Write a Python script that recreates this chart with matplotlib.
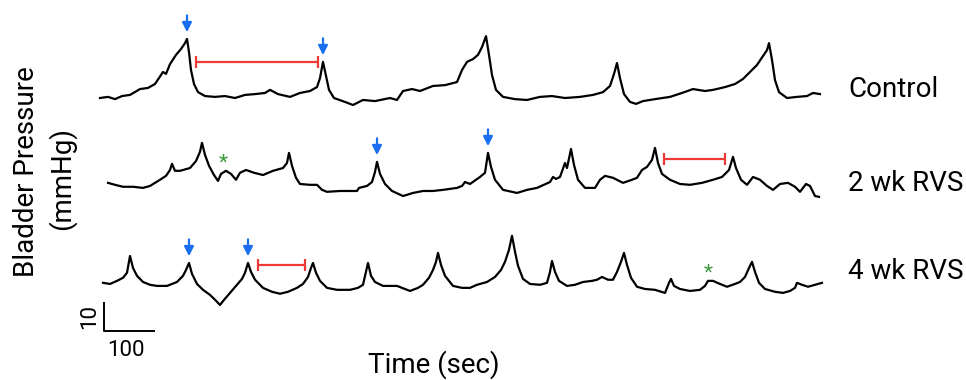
import matplotlib.pyplot as plt

plt.rcParams["font.family"] = ["Roboto", "DejaVu Sans"]

# time (sec) and pressure (mmHg, relative to each trace's own baseline)
control_t = [0, 16, 30, 44, 60, 80, 96, 110, 126, 132, 140, 152, 162, 170, 174, 178, 182, 188, 196, 210,
             230, 250, 270, 290, 310, 330, 340, 356, 380, 400, 420, 434, 440, 446, 452, 458, 468, 490, 506,
             526, 550, 580, 594, 606, 624, 640, 666, 690, 714, 724, 734, 746, 756, 764, 772, 778, 784, 792,
             806, 830, 854, 880, 904, 930, 960, 986, 1006, 1020, 1028, 1034, 1040, 1048, 1060, 1072, 1086,
             1110, 1140, 1164, 1186, 1210, 1226, 1250, 1270, 1286, 1300, 1314, 1326, 1334, 1338, 1344, 1350,
             1358, 1374, 1394, 1414, 1426, 1440]
control_p = [0.0, 0.4, -0.4, 0.7, 1.1, 3.2, 3.6, 5.0, 9.3, 8.6, 12.1, 15.4, 17.5, 19.6, 21.1, 16.4, 10.0,
             5.0, 2.1, 0.7, 0.4, 0.7, 0.0, 1.1, 1.4, 1.8, 2.9, 1.4, 0.4, 1.8, 2.5, 3.9, 7.1, 12.9, 7.9, 2.9,
             0.0, -1.4, -2.5, -0.7, -1.1, 0.0, -0.7, 2.5, 3.2, 2.5, 4.3, 4.6, 5.7, 10.0, 12.9, 13.9, 15.4,
             18.2, 22.1, 15.4, 8.2, 2.9, 0.4, -0.4, -0.7, 0.4, 0.7, 0.0, 0.4, 1.1, 2.1, 4.3, 8.6, 12.5, 7.1,
             1.4, -1.4, -2.1, -1.1, -0.4, 0.4, 1.8, 3.2, 2.5, 2.9, 3.9, 5.0, 6.8, 9.3, 11.8, 15.0, 17.1,
             19.6, 13.6, 6.4, 2.1, 0.0, 0.4, 0.7, 1.8, 1.4]

wk2_t = [16, 30, 46, 66, 86, 100, 120, 132, 140, 144, 150, 160, 180, 192, 200, 204, 210, 218, 228, 236,
         242, 252, 262, 272, 280, 292, 308, 326, 346, 366, 374, 378, 384, 392, 400, 420, 434, 444, 454,
         480, 514, 518, 534, 544, 550, 554, 560, 570, 584, 606, 626, 646, 666, 686, 714, 724, 730, 740,
         760, 770, 776, 782, 790, 806, 834, 854, 874, 900, 906, 912, 920, 930, 934, 942, 948, 956, 970,
         990, 1000, 1010, 1026, 1046, 1064, 1074, 1084, 1094, 1104, 1110, 1116, 1124, 1140, 1160, 1180,
         1204, 1226, 1244, 1258, 1266, 1272, 1282, 1294, 1306, 1320, 1334, 1346, 1360, 1376, 1390, 1400,
         1412, 1420, 1430, 1438]
wk2_p = [1.8, 1.1, 0.4, 0.4, 0.0, 0.7, 2.9, 4.3, 6.4, 8.6, 6.1, 6.1, 7.1, 9.6, 12.9, 16.1, 11.8, 7.9,
         4.6, 2.5, 5.0, 6.1, 5.0, 2.9, 5.4, 6.4, 5.4, 4.6, 6.1, 7.1, 8.9, 12.5, 7.9, 3.6, 1.4, 1.1, 1.1,
         -0.7, -1.4, -1.1, -1.1, 0.0, 0.7, 2.1, 5.7, 9.3, 5.0, 1.4, -1.1, -2.9, -1.8, -1.1, -1.1, -0.7,
         0.0, 0.7, 2.1, 1.4, 3.9, 5.4, 12.5, 7.5, 2.9, -0.7, -1.8, -0.7, 0.0, 2.1, 3.9, 3.2, 3.9, 8.9,
         7.1, 13.9, 8.2, 2.9, 0.0, 0.0, 2.9, 4.3, 3.6, 1.8, 2.9, 3.6, 6.4, 7.5, 10.0, 14.3, 8.9, 5.0,
         2.9, 1.4, 1.1, 1.8, 2.9, 3.9, 6.4, 11.1, 7.1, 2.9, 1.1, 3.9, 2.9, 0.7, -0.7, 1.4, 1.8, 0.4,
         -1.4, 1.4, 0.7, -2.9, -3.2]

wk4_t = [6, 20, 34, 46, 54, 60, 66, 74, 86, 100, 114, 134, 154, 166, 172, 178, 184, 194, 206, 220, 232,
         240, 248, 260, 274, 284, 290, 296, 302, 310, 326, 344, 360, 376, 394, 406, 416, 422, 426, 432,
         440, 454, 474, 500, 516, 526, 532, 536, 542, 550, 566, 594, 610, 620, 636, 646, 658, 666, 672,
         676, 682, 690, 706, 724, 740, 754, 774, 790, 802, 810, 818, 824, 830, 836, 846, 860, 880, 894,
         900, 904, 910, 918, 934, 950, 966, 984, 994, 1004, 1016, 1026, 1034, 1042, 1048, 1054, 1062,
         1074, 1090, 1110, 1130, 1134, 1138, 1142, 1148, 1160, 1180, 1200, 1210, 1216, 1226, 1240, 1254,
         1270, 1280, 1290, 1298, 1304, 1310, 1318, 1330, 1350, 1366, 1380, 1390, 1394, 1404, 1416, 1430,
         1444]
wk4_p = [1.8, 1.4, 2.5, 3.6, 5.4, 11.4, 7.1, 4.3, 2.1, 1.1, 0.7, 0.7, 2.1, 4.3, 6.4, 8.9, 5.0, 1.4,
         -0.7, -2.5, -4.6, -6.1, -4.3, -1.8, 1.1, 3.2, 5.4, 8.9, 5.7, 2.9, 0.0, -1.4, -2.1, -1.4, 0.0,
         1.4, 3.9, 7.1, 8.9, 5.4, 2.5, 0.0, -0.7, -0.7, 0.0, 1.1, 5.7, 8.9, 4.3, 2.1, 0.7, 0.7, -0.4,
         -1.1, 0.0, 1.1, 3.6, 6.4, 9.3, 12.5, 8.2, 4.3, 0.7, 0.0, 0.0, 1.1, 2.1, 3.9, 6.4, 9.3, 13.6,
         18.6, 12.9, 7.9, 3.2, 1.4, 1.1, 1.8, 5.7, 9.6, 5.7, 2.5, 0.7, 1.1, 2.1, 2.5, 2.9, 3.9, 2.9,
         2.9, 5.7, 9.3, 12.5, 8.2, 3.6, 0.4, -0.4, -0.7, -1.8, 0.0, 1.8, 3.2, 0.7, -0.4, -1.1, -0.7,
         0.7, 2.5, 2.5, 1.4, 0.4, 1.4, 2.1, 3.9, 7.1, 9.3, 5.7, 1.8, -0.4, -1.4, -1.8, -1.1, 0.0, 1.8,
         1.1, 0.4, 1.1, 1.8]

labels = ["Control", "2 wk RVS", "4 wk RVS"]
# marked contractions (time, peak), intercontraction interval (start, end, level), non-voiding (time, level)
arrows = [[(174, 21.1), (446, 12.9)], [(554, 9.3), (776, 12.5)], [(178, 8.9), (296, 8.9)]]
intervals = [(192, 436, 12.9), (1128, 1250, 10.4), (316, 410, 8.2)]
asterisks = [None, (246, 8.9), (1216, 5.4)]

traces = [(control_t, control_p), (wk2_t, wk2_p), (wk4_t, wk4_p)]
offsets = [100.7, 68.6, 32.9]
label_y = [2.9, 1.4, 5.7]

BLUE = "#1a6ff0"
RED = "#ee3a36"
GREEN = "#3c9a3c"

fig = plt.figure(figsize=(9.66, 3.8), dpi=100)
ax = fig.add_axes([0, 0, 1, 1])
ax.set_xlim(-200, 1732)
ax.set_ylim(0, 135.7)
ax.axis("off")

for (t, p), off, lab, ly, arr, iv, ast in zip(traces, offsets, labels, label_y, arrows, intervals, asterisks):
    ax.plot(t, [v + off for v in p], color="black", lw=1.6, solid_joinstyle="round")
    ax.text(1496, off + ly, lab, fontsize=20, va="center", ha="left")
    for at, ap in arr:
        ax.annotate("", xy=(at, off + ap + 1.4), xytext=(at, off + ap + 9.4),
                    arrowprops=dict(arrowstyle="-|>", color=BLUE, lw=1.6, mutation_scale=14))
    s, e, lvl = iv
    ax.hlines(off + lvl, s, e, color=RED, lw=1.6)
    ax.vlines([s, e], off + lvl - 2.1, off + lvl + 2.1, color=RED, lw=1.6)
    if ast is not None:
        ax.text(ast[0], off + ast[1], "*", color=GREEN, fontsize=15, ha="center", va="center")

# scale bar: 100 sec, 10 mmHg
sb_x, sb_y = 8, 17.5
ax.plot([sb_x, sb_x, sb_x + 100], [sb_y + 10, sb_y, sb_y], color="black", lw=1.4)
ax.text(sb_x - 28, sb_y + 5, "10", fontsize=16, rotation=90, ha="center", va="center")
ax.text(sb_x + 44, sb_y - 6.8, "100", fontsize=16, ha="center", va="center")

fig.text(27 / 966, 1 - 172 / 380, "Bladder Pressure", fontsize=20, rotation=90, ha="center", va="center")
fig.text(62 / 966, 1 - 178 / 380, "(mmHg)", fontsize=20, rotation=90, ha="center", va="center")
fig.text(434 / 966, 1 - 365 / 380, "Time (sec)", fontsize=20, ha="center", va="center")

fig.savefig("out.png", dpi=100)
